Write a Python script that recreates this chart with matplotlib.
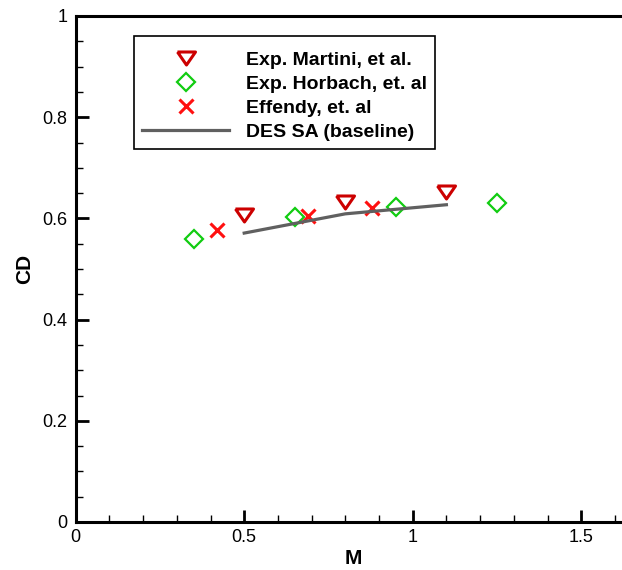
import matplotlib
matplotlib.use("Agg")
import matplotlib.pyplot as plt
from matplotlib.ticker import MultipleLocator, FuncFormatter

plt.rcParams['font.family'] = ['Liberation Sans', 'DejaVu Sans']

# Data
martini_M = [0.50, 0.80, 1.10]
martini_CD = [0.606, 0.633, 0.652]
horbach_M = [0.35, 0.65, 0.95, 1.25]
horbach_CD = [0.560, 0.602, 0.622, 0.631]
effendy_M = [0.42, 0.69, 0.88]
effendy_CD = [0.578, 0.605, 0.621]
des_M = [0.50, 0.65, 0.80, 0.95, 1.10]
des_CD = [0.571, 0.590, 0.609, 0.618, 0.627]

labels = ["Exp. Martini, et al.", "Exp. Horbach, et. al", "Effendy, et. al", "DES SA (baseline)"]

fig = plt.figure(figsize=(6.22, 5.70), dpi=100)
W, H = 622.0, 570.0
x0px, y0px, y1px = 75.7, 522.0, 16.0
pxunit = 337.0
xmax = 1.65
ax = fig.add_axes([x0px / W, (H - y0px) / H, xmax * pxunit / W, (y0px - y1px) / H])

tri = [(-1, 0.72), (1, 0.72), (0, -0.72), (-1, 0.72)]
ax.plot(martini_M, martini_CD, linestyle='none', marker=tri, markersize=13,
        markerfacecolor='none', markeredgecolor='#cc0000', markeredgewidth=2.2,
        label=labels[0])
ax.plot(horbach_M, horbach_CD, linestyle='none', marker='D', markersize=9.5,
        markerfacecolor='none', markeredgecolor='#11cc11', markeredgewidth=1.6,
        label=labels[1])
ax.plot(effendy_M, effendy_CD, linestyle='none', marker='x', markersize=10,
        markeredgecolor='#ff1010', markeredgewidth=2.2, label=labels[2])
ax.plot(des_M, des_CD, color='#606060', linewidth=2.3, label=labels[3])

ax.set_xlim(0, xmax)
ax.set_ylim(0, 1)
ax.xaxis.set_major_locator(MultipleLocator(0.5))
ax.xaxis.set_minor_locator(MultipleLocator(0.1))
ax.yaxis.set_major_locator(MultipleLocator(0.2))
ax.yaxis.set_minor_locator(MultipleLocator(0.05))
fmt = FuncFormatter(lambda v, p: ('%g' % round(v, 3)))
ax.xaxis.set_major_formatter(fmt)
ax.yaxis.set_major_formatter(fmt)
ax.tick_params(which='major', direction='in', length=9, width=2, labelsize=13,
               top=False, right=False)
ax.tick_params(which='minor', direction='in', length=5, width=1, top=False, right=False)
ax.tick_params(axis='x', pad=5)
ax.tick_params(axis='y', pad=6)
for s in ax.spines.values():
    s.set_linewidth(2.2)
ax.spines['right'].set_visible(False)

ax.set_xlabel('M', fontsize=15, fontweight='bold', labelpad=2)
ax.set_ylabel('CD', fontsize=15, fontweight='bold', labelpad=6)

leg = ax.legend(loc='upper left',
                bbox_to_anchor=((134 - x0px) / (xmax * pxunit), (y0px - 36) / (y0px - y1px)),
                prop={'weight': 'bold', 'size': 14}, frameon=True, fancybox=False,
                edgecolor='black', framealpha=1, handlelength=4.5, handletextpad=0.88,
                labelspacing=0.33, borderpad=0.4, borderaxespad=0,
                title=' ', title_fontsize=1)
leg.get_frame().set_linewidth(1.2)

fig.savefig('out.png', dpi=100)
